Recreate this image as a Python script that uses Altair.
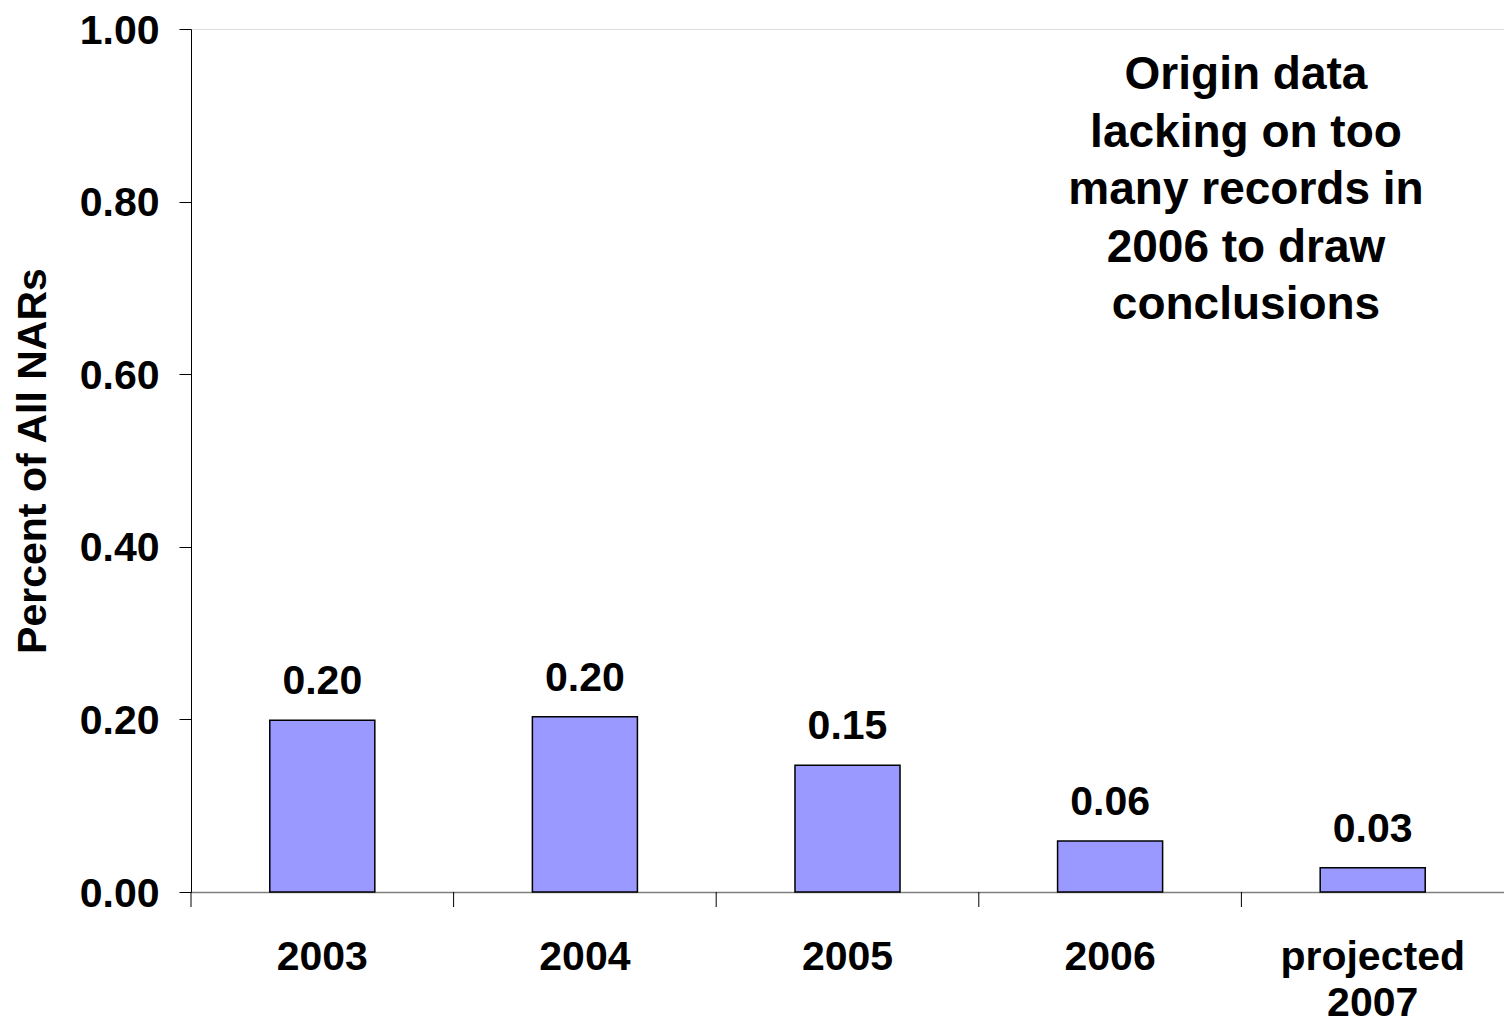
import altair as alt
import pandas as pd

categories = ["2003", "2004", "2005", "2006", "projected\n2007"]
values = [0.199, 0.203, 0.147, 0.059, 0.028]
y_ticks = [0.0, 0.2, 0.4, 0.6, 0.8, 1.0]
note_lines = ["Origin data", "lacking on too", "many records in", "2006 to draw", "conclusions"]
y_title = "Percent of All NARs"

df = pd.DataFrame({"cat": categories, "val": values})

FONT = "Liberation Sans"
W, H = 1313, 863
step = W / len(categories)

xscale = alt.Scale(domain=categories, paddingInner=0.6, paddingOuter=0.3)
yscale = alt.Scale(domain=[0, 1], nice=False, zero=True)

base = alt.Chart(df)

bars = base.mark_bar(fill="#9999FF", stroke="#000000", strokeWidth=1.5).encode(
    x=alt.X(
        "cat:N",
        scale=xscale,
        sort=categories,
        axis=alt.Axis(
            title=None,
            labelAngle=0,
            labelFont=FONT,
            labelFontSize=41,
            labelFontWeight="bold",
            labelColor="#000000",
            labelBaseline="top",
            labelPadding=45,
            labelLineHeight=46,
            labelLimit=0,
            labelExpr="split(datum.label, '\\n')",
            ticks=False,
            tickSize=0,
            domainColor="#808080",
            domainWidth=1.5,
            labelOverlap=False,
        ),
    ),
    y=alt.Y(
        "val:Q",
        scale=yscale,
        axis=alt.Axis(
            title=y_title,
            values=y_ticks,
            format=".2f",
            grid=False,
            labelFont=FONT,
            labelFontSize=41,
            labelFontWeight="bold",
            labelColor="#000000",
            labelPadding=20,
            labelOffset=2,
            tickSize=12,
            tickColor="#000000",
            tickWidth=1,
            domainColor="#000000",
            domainWidth=1,
            titleFont=FONT,
            titleFontSize=41,
            titleFontWeight="bold",
            titleColor="#000000",
            titleAngle=-90,
            titleAlign="center",
            titleBaseline="bottom",
            titleX=-137,
            titleY=H / 2,
        ),
    ),
)

labels = base.mark_text(
    font=FONT, fontSize=41, fontWeight="bold", color="#000000",
    baseline="alphabetic", dy=-26,
).encode(
    x=alt.X("cat:N", scale=xscale, sort=categories),
    y=alt.Y("val:Q", scale=yscale),
    text=alt.Text("val:Q", format=".2f"),
)

xticks = base.mark_rule(color="#000000", strokeWidth=1, xOffset=-step / 2).encode(
    x=alt.X("cat:N", scale=xscale, sort=categories),
    y=alt.value(H),
    y2=alt.value(H + 15),
)

note = alt.Chart(pd.DataFrame({"t": ["\n".join(note_lines)]})).mark_text(
    font=FONT, fontSize=46, fontWeight="bold", color="#000000",
    align="center", baseline="top", lineBreak="\n", lineHeight=57.5,
).encode(
    x=alt.value(1055),
    y=alt.value(24),
    text="t:N",
)

chart = alt.layer(bars, labels, xticks, note).properties(
    width=W,
    height=H,
    autosize=alt.AutoSizeParams(type="none"),
    padding={"left": 183, "top": 21, "right": 0, "bottom": 134},
).configure_view(stroke=None).configure(background="#ffffff")

chart.save("out.html", embed_options={"renderer": "svg", "actions": False})
